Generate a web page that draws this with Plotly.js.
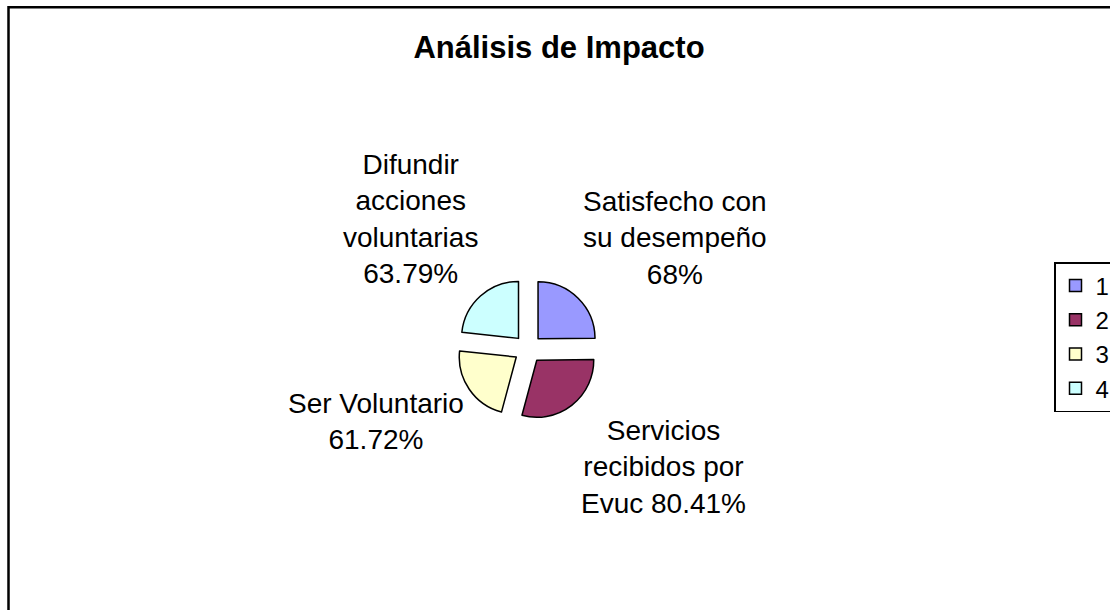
<!DOCTYPE html>
<html>
<head>
<meta charset="utf-8">
<script src="https://cdn.plot.ly/plotly-3.0.1.min.js"></script>
<style>html,body{margin:0;padding:0;background:#fff;}#chart{width:1110px;height:610px;}</style>
</head>
<body>
<div id="chart"></div>
<script>
// Data
const sliceLabels = ['1', '2', '3', '4'];
const sliceValues = [68, 80.41, 61.72, 63.79];
const categoryNames = ['Satisfecho con<br>su desempeño', 'Servicios<br>recibidos por<br>Evuc', 'Ser Voluntario', 'Difundir<br>acciones<br>voluntarias'];
const valueSeparators = ['<br>', ' ', '<br>', '<br>'];
const sliceColors = ['#9999FF', '#993366', '#FFFFCC', '#CCFFFF'];
const chartTitle = 'Análisis de Impacto';

// Label placement (pixel centres in the 1110x610 page)
const labelPos = [[675, 238], [663, 467], [376, 422], [410, 219]];

const W = 1110, H = 610;
const FONT = 'Liberation Sans, Arial, sans-serif';

const annotations = categoryNames.map((n, i) => ({
  text: n + valueSeparators[i] + sliceValues[i] + '%',
  xref: 'paper', yref: 'paper',
  x: labelPos[i][0] / W, y: 1 - labelPos[i][1] / H,
  xanchor: 'center', yanchor: 'middle', align: 'center',
  showarrow: false,
  font: {family: FONT, size: 28, color: '#000'}
}));

const trace = {
  type: 'pie',
  labels: sliceLabels,
  values: sliceValues,
  sort: false,
  direction: 'clockwise',
  rotation: 0,
  pull: [0.25, 0.25, 0.25, 0.25],
  textinfo: 'none',
  hoverinfo: 'skip',
  marker: {colors: sliceColors, line: {color: '#000', width: 1.5}},
  domain: {x: [0.4115, 0.5399], y: [0.3111, 0.5447]}
};

const layout = {
  width: W, height: H,
  margin: {l: 0, r: 0, t: 0, b: 0, autoexpand: false},
  paper_bgcolor: '#fff',
  plot_bgcolor: '#fff',
  title: {text: '<b>' + chartTitle + '</b>', x: 559 / W, xref: 'paper', y: 1 - 47 / H, yanchor: 'middle',
          font: {family: FONT, size: 31, color: '#000'}},
  showlegend: true,
  legend: {x: 1054 / W, y: 1 - 262 / H, xanchor: 'left', yanchor: 'top',
           bordercolor: '#000', borderwidth: 1.5, bgcolor: '#fff',
           font: {family: FONT, size: 24, color: '#000'}},
  annotations: annotations,
  shapes: [{type: 'rect', xref: 'paper', yref: 'paper',
            x0: 8.5 / W, x1: 1.05, y0: -0.05, y1: 1 - 7.3 / H,
            line: {color: '#000', width: 2.5}, fillcolor: 'rgba(0,0,0,0)', layer: 'below'}]
};

Plotly.newPlot('chart', [trace], layout, {displayModeBar: false, staticPlot: true});
</script>
</body>
</html>
